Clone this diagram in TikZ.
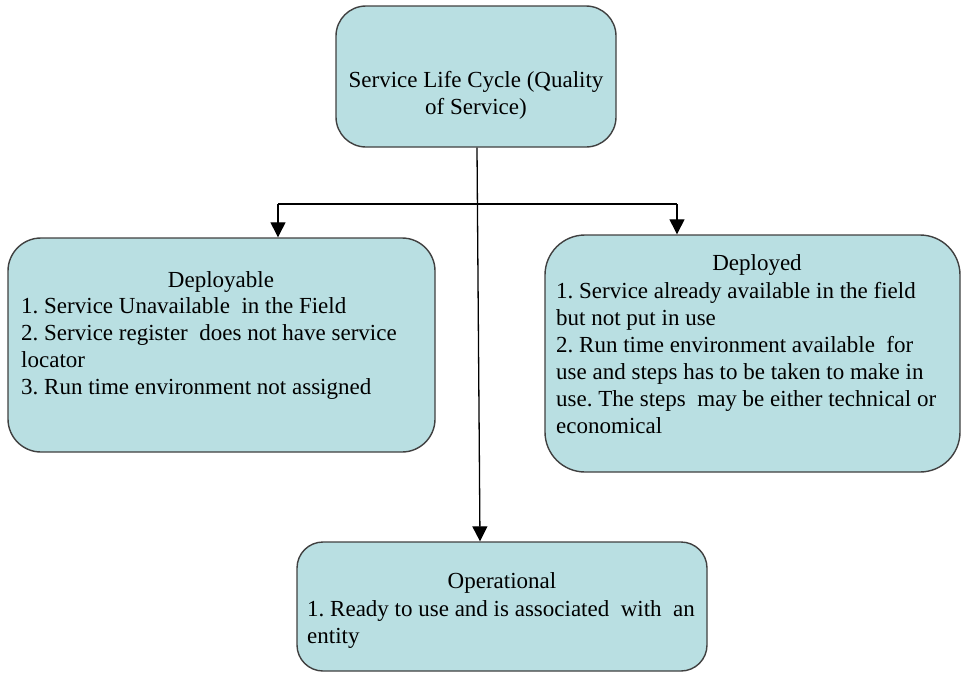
\documentclass[tikz,border=0pt]{standalone}
\usepackage{fontspec}
\setmainfont{Liberation Serif}
\usetikzlibrary{arrows.meta}
\definecolor{boxfill}{HTML}{B9DFE2}
\definecolor{boxline}{HTML}{404040}
\tikzset{
  box/.style={draw=boxline, line width=1.4pt, fill=boxfill, rounded corners=30pt, inner sep=0pt},
  txt/.style={inner sep=0pt, font=\fontsize{23}{27}\selectfont\frenchspacing},
  arr/.style={line width=1.3pt, -{Triangle[length=15pt,width=15pt]}},
  ln/.style={line width=1.3pt}
}
\begin{document}
\begin{tikzpicture}[x=1pt,y=-1pt]
\useasboundingbox (0,0) rectangle (962,673);
% boxes
\node[box, minimum width=280pt, minimum height=141pt] (top) at (476,76.5) {};
\node[box, minimum width=427pt, minimum height=214pt, rounded corners=33pt] (dl) at (221.5,345) {};
\node[box, minimum width=415pt, minimum height=237pt, rounded corners=40pt] (dd) at (752.5,353.5) {};
\node[box, minimum width=410pt, minimum height=129pt, rounded corners=26pt] (op) at (502,606.5) {};
% texts
\node[txt, anchor=base] (toptxt) at (476,87) {\begin{tabular}[t]{@{}c@{}}Service Life Cycle (Quality\\ of Service)\end{tabular}};
\node[txt, anchor=base] (dltitle) at (221,287) {Deployable};
\node[txt, anchor=base west] (dlbody) at (21,313) {\begin{tabular}[t]{@{}l@{}}1. Service Unavailable \ in the Field\\ 2. Service register \ does not have service\\ locator\\ 3. Run time environment not assigned\end{tabular}};
\node[txt, anchor=base] (ddtitle) at (757,270) {Deployed};
\node[txt, anchor=base west] (ddbody) at (556,298) {\begin{tabular}[t]{@{}l@{}}1. Service already available in the field\\ but not put in use\\ 2. Run time environment available \ for\\ use and steps has to be taken to make in\\ use. The steps \ may be either technical or\\ economical\end{tabular}};
\node[txt, anchor=base] (optitle) at (502,588) {Operational};
\node[txt, anchor=base west] (opbody) at (307,616) {\begin{tabular}[t]{@{}l@{}}1. Ready to use and is associated \ with \ an\\ entity\end{tabular}};
% connectors
\coordinate (jl) at (278,204);
\coordinate (jr) at (677,204);
\draw[arr] (top.south -| 477,0) -- (op.north -| 480,0);
\draw[ln] (jl) -- (jr);
\draw[arr] (jl) -- (jl |- dl.north);
\draw[arr] (jr) -- (jr |- dd.north);
\end{tikzpicture}
\end{document}
